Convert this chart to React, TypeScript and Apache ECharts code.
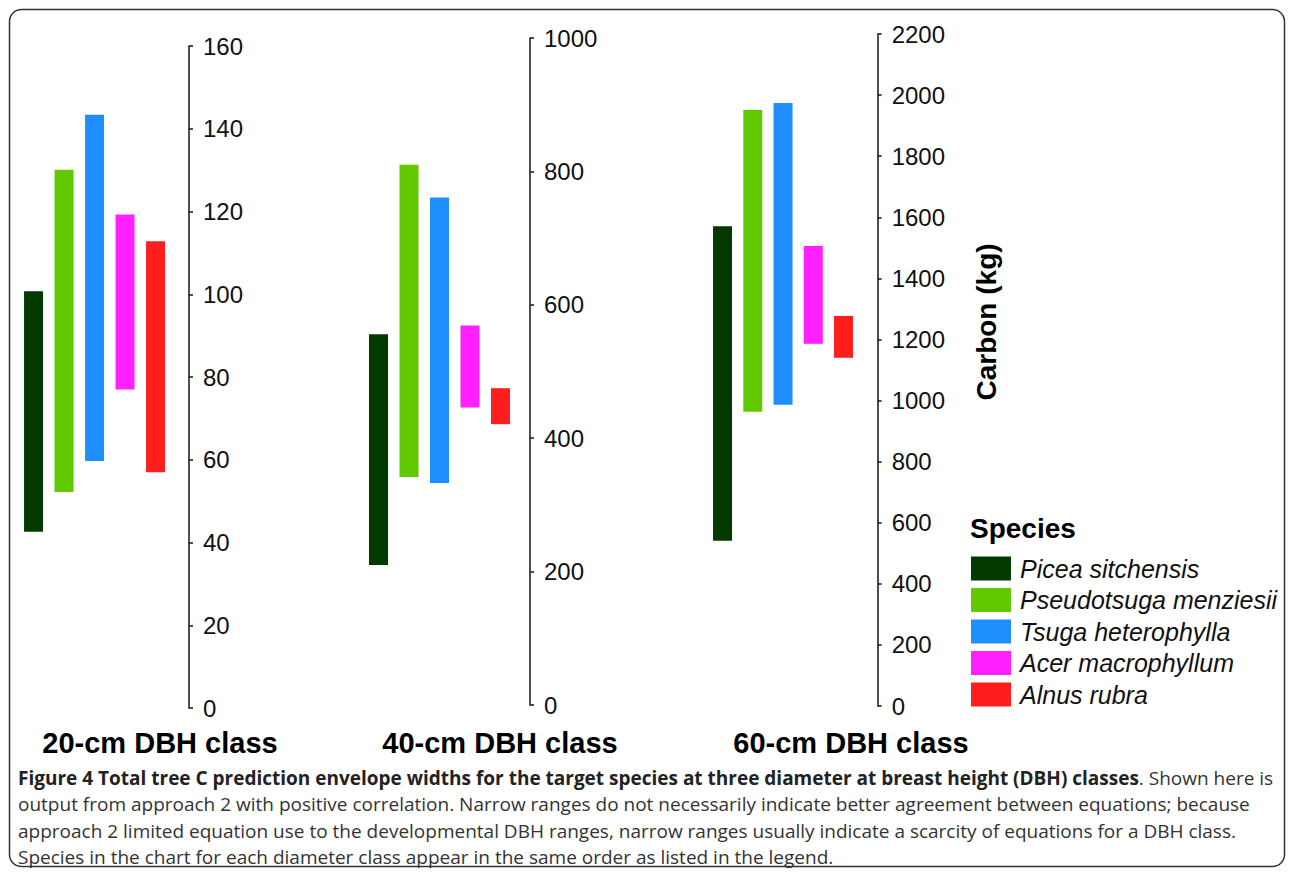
import React, { useEffect, useRef } from "react";
import * as echarts from "echarts";

const species = [
  "Picea sitchensis",
  "Pseudotsuga menziesii",
  "Tsuga heterophylla",
  "Acer macrophyllum",
  "Alnus rubra",
];
const colors = ["#033A00", "#62C800", "#1E8FFF", "#FF1FFF", "#FF1E1E"];

const classNames = ["20-cm DBH class", "40-cm DBH class", "60-cm DBH class"];

// lower and upper limits of the prediction envelope for each class
const low20 = [42.6, 52.2, 59.7, 77.0, 57.0];
const high20 = [100.7, 130.1, 143.4, 119.3, 112.8];
const low40 = [210, 342, 333, 446, 421];
const high40 = [556, 810, 761, 569, 475];
const low60 = [541, 963, 986, 1186, 1140];
const high60 = [1571, 1951, 1974, 1506, 1277];

const axisMax = [160, 1000, 2200];
const axisStep = [20, 200, 200];

const captionBold =
  "Figure 4 Total tree C prediction envelope widths for the target species at three diameter at breast height (DBH) classes";
const captionLines = [
  ". Shown here is",
  "output from approach 2 with positive correlation. Narrow ranges do not necessarily indicate better agreement between equations; because",
  "approach 2 limited equation use to the developmental DBH ranges, narrow ranges usually indicate a scarcity of equations for a DBH class.",
  "Species in the chart for each diameter class appear in the same order as listed in the legend.",
];

const FONT = "'Liberation Sans', Arial, sans-serif";

export default function App() {
  const ref = useRef<HTMLDivElement>(null);
  useEffect(() => {
    if (!ref.current) return;
    const chart = echarts.init(ref.current, null, { renderer: "svg" });

    const lows = [low20, low40, low60];
    const highs = [high20, high40, high60];

    const grids = [
      { left: 19.25, width: 152.5, top: 46, height: 662 },
      { left: 363.25, width: 152.5, top: 38, height: 667 },
      { left: 707.4, width: 151.25, top: 34, height: 672 },
    ];
    const offsets = [17.25, 14.25, 19];

    const xAxes = grids.map((_, i) => ({
      type: "category",
      gridIndex: i,
      data: species,
      show: false,
      boundaryGap: true,
    }));
    const yAxes = grids.map((_, i) => ({
      type: "value",
      gridIndex: i,
      position: "right",
      offset: offsets[i],
      min: 0,
      max: axisMax[i],
      interval: axisStep[i],
      splitLine: { show: false },
      axisLine: { show: true, lineStyle: { color: "#222", width: 1.6 } },
      axisTick: { show: true, length: 4, lineStyle: { color: "#222", width: 1.6 } },
      axisLabel: {
        margin: 14,
        fontSize: 24,
        fontFamily: FONT,
        color: "#111",
        formatter: (v: number) => String(v),
      },
    }));

    const series: any[] = [];
    for (let i = 0; i < 3; i++) {
      series.push({
        type: "bar",
        xAxisIndex: i,
        yAxisIndex: i,
        stack: "s" + i,
        barWidth: 19,
        silent: true,
        itemStyle: { color: "transparent" },
        data: lows[i],
      });
      series.push({
        type: "bar",
        xAxisIndex: i,
        yAxisIndex: i,
        stack: "s" + i,
        barWidth: 19,
        data: highs[i].map((h, j) => ({
          value: +(h - lows[i][j]).toFixed(2),
          itemStyle: { color: colors[j] },
        })),
      });
    }
    // legend entries
    species.forEach((name, j) => {
      series.push({
        type: "bar",
        name,
        xAxisIndex: 0,
        yAxisIndex: 0,
        data: [],
        itemStyle: { color: colors[j] },
      });
    });

    const titleX = [160, 500, 851];

    const graphic: any[] = [
      {
        type: "rect",
        shape: { x: 9.5, y: 9.5, width: 1275, height: 857, r: 12 },
        style: { fill: "none", stroke: "#333", lineWidth: 1.5 },
        silent: true,
      },
      ...classNames.map((t, i) => ({
        type: "text",
        x: titleX[i],
        y: 743,
        style: {
          text: t,
          fontSize: 29,
          fontWeight: "bold",
          fontFamily: FONT,
          fill: "#000",
          align: "center",
          verticalAlign: "middle",
        },
      })),
      {
        type: "text",
        x: 986,
        y: 322,
        rotation: Math.PI / 2,
        style: {
          text: "Carbon (kg)",
          fontSize: 28,
          fontWeight: "bold",
          fontFamily: FONT,
          fill: "#000",
          align: "center",
          verticalAlign: "middle",
        },
      },
      {
        type: "text",
        x: 970,
        y: 528,
        style: {
          text: "Species",
          fontSize: 28,
          fontWeight: "bold",
          fontFamily: FONT,
          fill: "#000",
          align: "left",
          verticalAlign: "middle",
        },
      },
      {
        type: "text",
        x: 18,
        y: 765,
        style: {
          text:
            "{b|" + captionBold + "}{n|" + captionLines[0] + "}\n" +
            captionLines.slice(1).map((l) => "{n|" + l + "}").join("\n"),
          rich: {
            b: {
              fontFamily: "'Open Sans', sans-serif",
              fontWeight: "bold",
              fontSize: 19,
              fill: "#222",
              lineHeight: 26.3,
            },
            n: {
              fontFamily: "'Open Sans', sans-serif",
              fontSize: 19,
              fill: "#333",
              lineHeight: 26.3,
            },
          },
          align: "left",
          verticalAlign: "top",
        },
      },
    ];

    chart.setOption({
      animation: false,
      grid: grids,
      xAxis: xAxes,
      yAxis: yAxes,
      series,
      legend: {
        orient: "vertical",
        left: 971,
        top: 556,
        padding: 0,
        itemWidth: 40,
        itemHeight: 24,
        itemGap: 6.5,
        icon: "rect",
        selectedMode: false,
        data: species,
        textStyle: {
          fontSize: 25,
          lineHeight: 24,
          fontStyle: "italic",
          fontFamily: FONT,
          color: "#111",
          padding: [0, 0, 0, 4],
        },
      },
      graphic,
    });
    return () => chart.dispose();
  }, []);
  return (
    <div
      ref={ref}
      style={{ position: "absolute", left: 0, top: 0, width: 1292, height: 876, background: "#fff" }}
    />
  );
}
